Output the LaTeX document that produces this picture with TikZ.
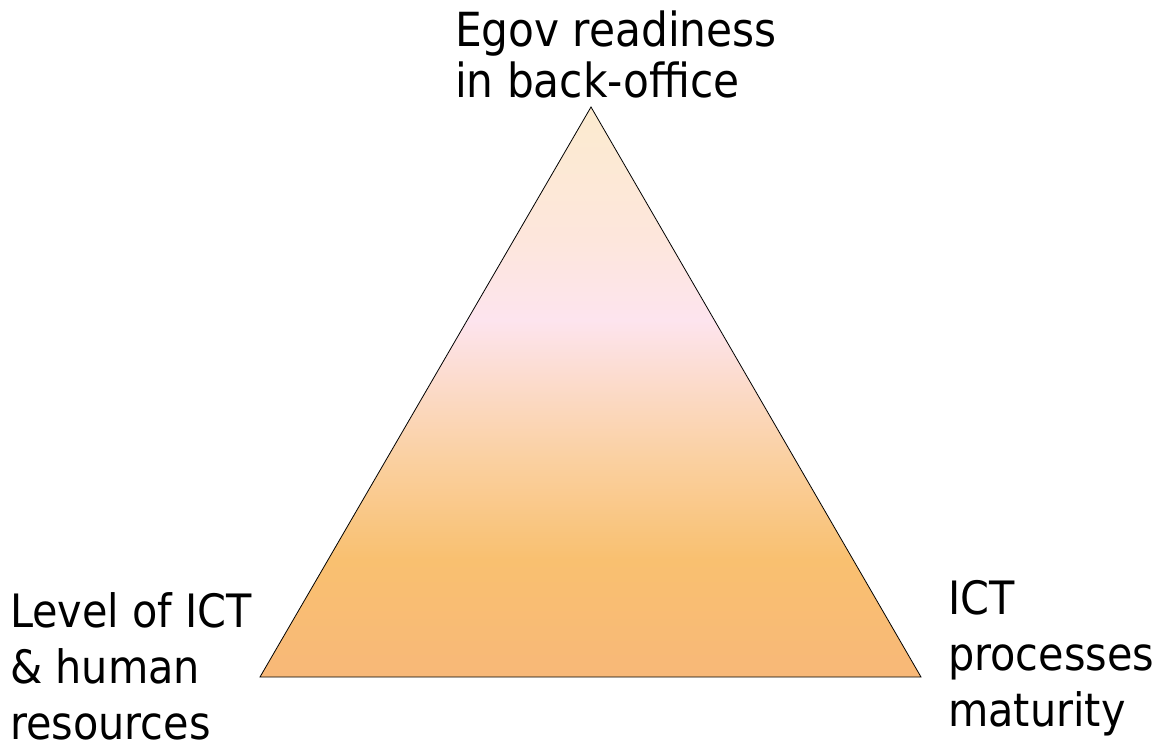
\documentclass[tikz,border=0pt]{standalone}
\usepackage{fontspec}
\setmainfont{DejaVu Sans Condensed}
\definecolor{cB}{HTML}{F8B878}
\definecolor{cO}{HTML}{F9C070}
\definecolor{cP}{HTML}{FAD0A0}
\definecolor{cK}{HTML}{FDE4EE}
\definecolor{cR}{HTML}{FDE6DC}
\definecolor{cT}{HTML}{FCEBCF}
\pgfdeclareverticalshading{trishade}{100bp}{%
  color(0bp)=(cB);
  color(25bp)=(cB);
  color(35.3bp)=(cO);
  color(44bp)=(cP);
  color(56.3bp)=(cK);
  color(63.3bp)=(cR);
  color(75bp)=(cT);
  color(100bp)=(cT)}
\tikzset{
  toplabel/.style={font=\fontsize{47}{51}\selectfont, inner sep=0pt, align=left, anchor=base west},
  sidelabel/.style={font=\fontsize{46}{56}\selectfont, inner sep=0pt, align=left, anchor=base west, text depth=0pt},
}
\begin{document}
\begin{tikzpicture}[x=1pt,y=-1pt]
\useasboundingbox (0,0) rectangle (1155,751);
\coordinate (apex) at (591,107);
\coordinate (bl) at (260,677);
\coordinate (br) at (921,677);
\shade[shading=trishade, draw=black, line width=0.8pt] (apex) -- (br) -- (bl) -- cycle;
\node[toplabel] (top) at (455,98) {Egov readiness\\in back-office};
\node[sidelabel] (left) at (10,739) {Level of ICT\\\& human\\resources};
\node[sidelabel] (right) at (948,726) {ICT\\processes\\maturity};
\end{tikzpicture}
\end{document}
